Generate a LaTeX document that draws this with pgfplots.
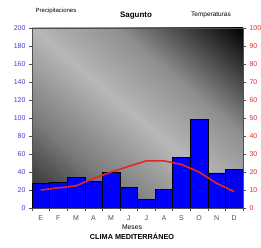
\documentclass[border=0pt]{standalone}
\usepackage{fontspec}
\setmainfont{Liberation Sans}
\usepackage{pgfplots}
\pgfplotsset{compat=1.18}
\definecolor{lblue}{RGB}{60,60,210}
\definecolor{lred}{RGB}{225,40,40}
\definecolor{mgray}{RGB}{80,80,80}
\pgfdeclarehorizontalshading{barshade}{100bp}{color(0bp)=(blue!35!black); color(30bp)=(blue); color(70bp)=(blue); color(100bp)=(blue!35!black)}
\begin{document}
\begin{tikzpicture}
\path[use as bounding box] (-32bp,-40bp) rectangle (229bp,208bp);
\begin{scope}[x=211bp,y=180bp]
\clip (0,0) rectangle (1,1);
\foreach \i in {0,...,99}{
  \pgfmathsetmacro{\sa}{\i/50}
  \pgfmathsetmacro{\sb}{(\i+1.4)/50}
  \pgfmathsetmacro{\sm}{(\i+0.5)/50}
  \pgfmathsetmacro{\bb}{\sm<0.5 ? 0.12+0.72*\sm : (\sm<1 ? 0.48+0.48*(\sm-0.5) : (\sm<1.4 ? 0.72-0.4*(\sm-1) : 0.56-0.9333*(\sm-1.4)))}
  \pgfmathsetmacro{\pct}{max(0,min(100,100*(1-\bb)))}
  \fill[black!\pct] ({\sa+1},-1) -- ({\sb+1},-1) -- ({\sb-2},2) -- ({\sa-2},2) -- cycle;
}
\end{scope}
\begin{axis}[
  at={(0,0)}, anchor=south west, scale only axis,
  width=211bp, height=180bp,
  xmin=-0.5, xmax=11.5, ymin=0, ymax=200,
  ytick={0,20,...,200},
  xtick={0,...,11},
  xticklabels={E,F,M,A,M,J,J,A,S,O,N,D},
  minor xtick={-0.5,0.5,...,11.5},
  major x tick style={draw=none},
  tick align=outside, tick pos=left,
  major tick length=3bp, minor tick length=3bp,
  axis line style={mgray},
  every tick/.style={mgray},
  /pgf/number format/assume math mode=true,
  yticklabel style={font=\fontsize{7}{8}\selectfont, text=lblue},
  xticklabel style={font=\fontsize{7}{8}\selectfont, text=mgray, yshift=-1bp},
]
\addplot[ybar, bar width=1, draw=black, shading=barshade, shade] coordinates {
(0,27.3) (1,28.5) (2,33.9) (3,29.8) (4,39.3) (5,23) (6,9.8) (7,21) (8,56.4) (9,98.3) (10,38.9) (11,42.6)};
\end{axis}
\begin{axis}[
  at={(0,0)}, anchor=south west, scale only axis,
  width=211bp, height=180bp,
  xmin=-0.5, xmax=11.5, ymin=0, ymax=100,
  axis x line=none, axis y line*=right,
  ytick={0,10,...,100},
  tick align=outside, major tick length=3bp,
  axis line style={mgray},
  every tick/.style={mgray},
  /pgf/number format/assume math mode=true,
  yticklabel style={font=\fontsize{7}{8}\selectfont, text=lred},
]
\addplot[lred, line width=1.6bp] coordinates {
(0,10) (1,11.2) (2,12.3) (3,16.4) (4,20) (5,23.1) (6,26.2) (7,26.2) (8,24.2) (9,20) (10,13.7) (11,9.1)};
\end{axis}
\node[font=\fontsize{6}{7}\selectfont] at (24bp,197bp) {Precipitaciones};
\node[font=\bfseries\fontsize{8}{9}\selectfont] at (104bp,192bp) {Sagunto};
\node[font=\fontsize{6.5}{7}\selectfont] at (179bp,193bp) {Temperaturas};
\node[font=\fontsize{6.8}{8}\selectfont] at (100bp,-19bp) {Meses};
\node[font=\bfseries\fontsize{7.3}{8}\selectfont] at (100bp,-28bp) {CLIMA MEDITERRÁNEO};
\end{tikzpicture}
\end{document}
